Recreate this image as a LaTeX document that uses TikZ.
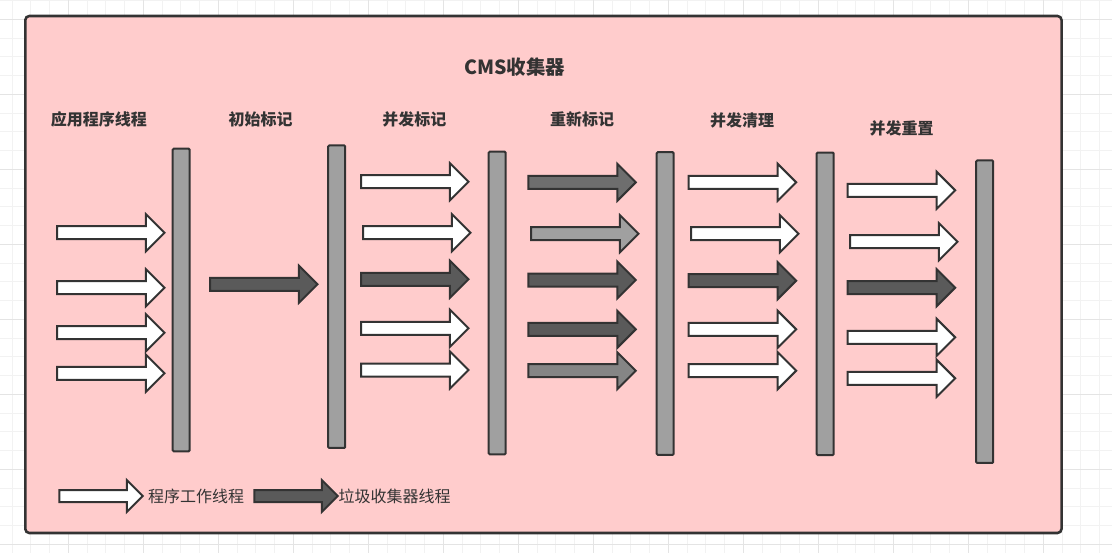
\documentclass[tikz,border=0pt]{standalone}
\usepackage{fontspec}
\setmainfont{Noto Sans CJK SC}
\usetikzlibrary{shapes.arrows}
\definecolor{bg}{HTML}{FFCCCC}
\definecolor{ink}{HTML}{333333}
\definecolor{barfill}{HTML}{A0A0A0}
\definecolor{gcdark}{HTML}{5A5A5A}
\definecolor{gcmid}{HTML}{6E6E6E}
\definecolor{gclight}{HTML}{A0A0A0}
\definecolor{gcgray}{HTML}{858585}
\definecolor{gridminor}{HTML}{F2F2F2}
\definecolor{gridmajor}{HTML}{E4E4E4}
\tikzset{
  thread/.style={single arrow, draw=ink, line width=1.5pt, outer sep=0pt,
    inner xsep=0pt, inner ysep=4.125pt, minimum height=80.6pt,
    minimum width=26.25pt, single arrow head extend=9pt, anchor=west},
  legendarrow/.style={thread, inner ysep=3.75pt, minimum height=62.6pt,
    minimum width=22.5pt, single arrow head extend=7.5pt},
  barbox/.style={rectangle, draw=ink, fill=barfill, line width=1.5pt,
    rounded corners=0.8pt, inner sep=0pt, minimum width=12.75pt,
    minimum height=226.9pt},
  phase/.style={text=ink, font=\fontsize{12pt}{14pt}\selectfont\bfseries},
  legendtext/.style={text=ink, font=\fontsize{12pt}{14pt}\selectfont},
  title/.style={text=ink, font=\fontsize{14.6pt}{17pt}\selectfont\bfseries}
}
\begin{document}
\begin{tikzpicture}[x=0.75pt,y=-0.75pt]
\useasboundingbox (0,0) rectangle (1112,553);
\fill[white] (0,0) rectangle (1112,553);
\begin{scope}
\clip (0,0) rectangle (1112,553);
\foreach \i in {0,...,60} \draw[gridminor, line width=0.75pt] ({-6.7+18.75*\i},0) -- ++(0,553);
\foreach \i in {0,...,30} \draw[gridminor, line width=0.75pt] (0,{0.55+18.75*\i}) -- ++(1112,0);
\foreach \i in {0,...,15} \draw[gridmajor, line width=0.75pt] ({-6.7+75*\i},0) -- ++(0,553);
\foreach \i in {0,...,7} \draw[gridmajor, line width=0.75pt] (0,{19.3+75*\i}) -- ++(1112,0);
\end{scope}
% main frame
\draw[draw=ink, fill=bg, line width=1.9pt, rounded corners=3pt] (25.3,16) rectangle (1061.5,533);
% title and phase labels
\node[title] (t) at (514.5,67.3) {CMS收集器};
\node[phase] (l1) at (98.8,119) {应用程序线程};
\node[phase] (l2) at (260.7,119) {初始标记};
\node[phase] (l3) at (414.3,119) {并发标记};
\node[phase] (l4) at (582,119.3) {重新标记};
\node[phase] (l5) at (742,120) {并发清理};
\node[phase] (l6) at (901.7,128.3) {并发重置};
% barriers
\node[barbox] (b1) at (181.2,300) {};
\node[barbox] (b2) at (336.7,296.7) {};
\node[barbox] (b3) at (497.2,303) {};
\node[barbox] (b4) at (665.2,303.5) {};
\node[barbox] (b5) at (825.2,303.8) {};
\node[barbox] (b6) at (984.7,311.7) {};
% application threads
\node[thread, fill=white] (a11) at (57,232.7) {};
\node[thread, fill=white] (a12) at (57,287.7) {};
\node[thread, fill=white] (a13) at (57,332.7) {};
\node[thread, fill=white] (a14) at (57,373.3) {};
% initial mark
\node[thread, fill=gcdark] (a21) at (210,284.3) {};
% concurrent mark
\node[thread, fill=white] (a31) at (361,181.7) {};
\node[thread, fill=white] (a32) at (363,232.7) {};
\node[thread, fill=gcdark] (a33) at (361,279.3) {};
\node[thread, fill=white] (a34) at (361,328.3) {};
\node[thread, fill=white] (a35) at (361,370) {};
% remark
\node[thread, fill=gcmid] (a41) at (528.3,182.3) {};
\node[thread, fill=gclight] (a42) at (531,233.7) {};
\node[thread, fill=gcdark] (a43) at (528.3,280) {};
\node[thread, fill=gcdark] (a44) at (528.3,329.3) {};
\node[thread, fill=gcgray] (a45) at (528.3,370.7) {};
% concurrent sweep
\node[thread, fill=white] (a51) at (688.7,182.3) {};
\node[thread, fill=white] (a52) at (691,233.7) {};
\node[thread, fill=gcdark] (a53) at (688.7,280.7) {};
\node[thread, fill=white] (a54) at (688.7,329.3) {};
\node[thread, fill=white] (a55) at (688.7,370.7) {};
% concurrent reset
\node[thread, fill=white] (a61) at (847.7,190.3) {};
\node[thread, fill=white] (a62) at (850,241.7) {};
\node[thread, fill=gcdark] (a63) at (847.7,287.7) {};
\node[thread, fill=white] (a64) at (847.7,337.3) {};
\node[thread, fill=white] (a65) at (847.7,378.3) {};
% legend
\node[legendarrow, fill=white] (la) at (59.3,496) {};
\node[legendarrow, fill=gcdark] (lb) at (254.3,496) {};
\node[legendtext] (lta) at (196,496.7) {程序工作线程};
\node[legendtext] (ltb) at (394.5,496.7) {垃圾收集器线程};
\end{tikzpicture}
\end{document}
